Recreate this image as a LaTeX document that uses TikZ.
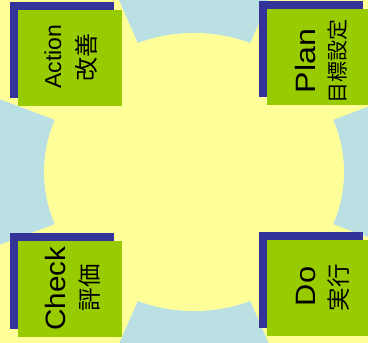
\documentclass[tikz,border=0pt]{standalone}
\usepackage{fontspec}
\usetikzlibrary{shapes.geometric}
\setmainfont{Liberation Sans}
\newfontfamily\jfont{Noto Sans CJK JP}
\definecolor{bgyellow}{HTML}{FFFF99}
\definecolor{segblue}{HTML}{BBE0E3}
\definecolor{shadowblue}{HTML}{333399}
\definecolor{boxgreen}{HTML}{99CC00}
\tikzset{
  shadowbox/.style={fill=shadowblue, draw=none, minimum width=104pt, minimum height=96pt, inner sep=0pt},
  greenbox/.style={fill=boxgreen, draw=none, minimum width=104pt, minimum height=96pt, inner sep=0pt},
  lbl/.style={inner sep=0pt, rotate=90, text=black},
  segment/.style={fill=segblue, draw=none}
}
\begin{document}
\begin{tikzpicture}[x=1pt,y=-1pt]
\useasboundingbox (0,0) rectangle (368,343);
\clip (0,0) rectangle (368,343);
\fill[bgyellow] (0,0) rectangle (368,343);
\coordinate (c) at (194,172);
% blue ring segments
\foreach \a in {0,90,180,270}{
  \fill[segment] (c) -- +({450*cos(\a-22)},{417*sin(\a-22)}) -- +({450*cos(\a+22)},{417*sin(\a+22)}) -- cycle;
}
% central yellow disc
\node[fill=bgyellow, draw=none, ellipse, minimum width=300pt, minimum height=278pt, inner sep=0pt] (disc) at (c) {};
% boxes
\node[shadowbox] (sA) at (62,50) {};
\node[greenbox] (gA) at (70,58) {};
\node[shadowbox] (sP) at (311,49) {};
\node[greenbox] (gP) at (319,57) {};
\node[shadowbox] (sC) at (62,281) {};
\node[greenbox] (gC) at (70,289) {};
\node[shadowbox] (sD) at (311,280) {};
\node[greenbox] (gD) at (319,288) {};
% labels
\node[lbl, font=\fontsize{23}{23}\selectfont] (tA) at (53,56.5) {Action};
\node[lbl, font=\jfont\fontsize{24}{24}\selectfont] (jA) at (86,57.5) {改善};
\node[lbl, font=\fontsize{28}{28}\selectfont] (tP) at (305,61) {\scalebox{1.15}[1]{Plan}};
\node[lbl, font=\jfont\fontsize{21}{21}\selectfont] (jP) at (338,61.5) {目標設定};
\node[lbl, font=\fontsize{28}{28}\selectfont] (tC) at (55,288.5) {\scalebox{1.06}[1]{Check}};
\node[lbl, font=\jfont\fontsize{23.5}{23.5}\selectfont] (jC) at (89.5,287.5) {評価};
\node[lbl, font=\fontsize{28}{28}\selectfont] (tD) at (306,286.5) {\scalebox{1.1}[1]{Do}};
\node[lbl, font=\jfont\fontsize{23.5}{23.5}\selectfont] (jD) at (339,287.5) {実行};
\end{tikzpicture}
\end{document}
